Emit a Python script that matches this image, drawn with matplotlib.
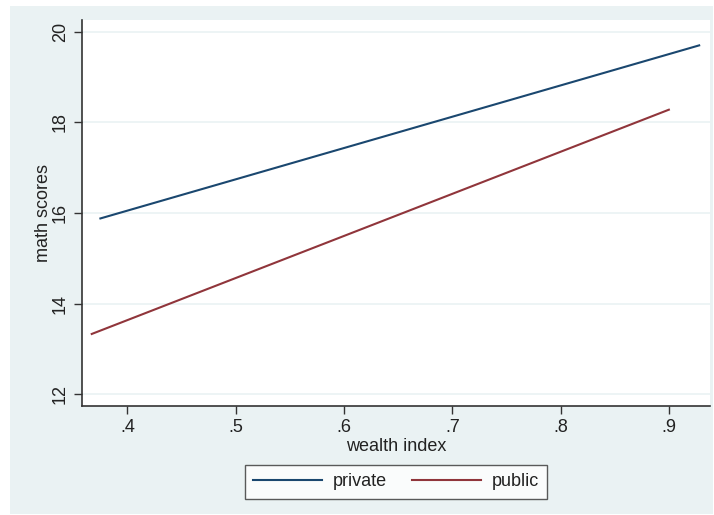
import matplotlib
matplotlib.use("Agg")
import matplotlib.pyplot as plt
from matplotlib.patches import Rectangle

plt.rcParams['font.family'] = ['Liberation Sans', 'DejaVu Sans']

# fitted lines: math scores against wealth index
private_x = [0.375, 0.928]
private_y = [15.88, 19.70]
public_x = [0.367, 0.900]
public_y = [13.33, 18.28]

xticks = [0.4, 0.5, 0.6, 0.7, 0.8, 0.9]
xticklabels = [".4", ".5", ".6", ".7", ".8", ".9"]
yticks = [12, 14, 16, 18, 20]

bg = "#eaf2f3"
navy = "#1a476f"
maroon = "#90353b"
dark = "#333333"

fig = plt.figure(figsize=(7.14, 5.15), dpi=100, facecolor="white")
W, H = 714, 515
fig.patches.append(Rectangle((10 / W, 1 / H), 703 / W, 508 / H,
                             transform=fig.transFigure, facecolor=bg,
                             edgecolor="none", zorder=-10))

ax = fig.add_axes([82 / W, (H - 406) / H, 628 / W, 386 / H])
ax.set_facecolor("white")

ax.plot(private_x, private_y, color=navy, lw=1.5, label="private")
ax.plot(public_x, public_y, color=maroon, lw=1.5, label="public")

ax.set_xlim(0.358, 0.938)
ax.set_ylim(11.74, 20.26)
ax.set_xticks(xticks)
ax.set_xticklabels(xticklabels)
ax.set_yticks(yticks)
ax.set_yticklabels([str(t) for t in yticks], rotation=90, va="center")

ax.grid(axis="y", color=bg, lw=1.2)
ax.set_axisbelow(True)
for s in ["top", "right"]:
    ax.spines[s].set_visible(False)
for s in ["left", "bottom"]:
    ax.spines[s].set_color(dark)
    ax.spines[s].set_linewidth(1.2)
ax.tick_params(colors=dark, labelcolor="#222222", labelsize=13,
               length=6, width=1.0, direction="out")

ax.set_xlabel("wealth index", fontsize=13, color="#222222", labelpad=1)
ax.set_ylabel("math scores", fontsize=13, color="#222222", labelpad=0)

leg = fig.legend(loc="center", bbox_to_anchor=(396 / W, (H - 482) / H),
                 ncol=2, frameon=True, fontsize=13, fancybox=False,
                 handlelength=3.8, handletextpad=0.6, columnspacing=1.4,
                 borderpad=0.45)
leg.get_frame().set_edgecolor(dark)
leg.get_frame().set_linewidth(1.0)
for t in leg.get_texts():
    t.set_color("#222222")

fig.savefig("out.png", dpi=100, facecolor="white")
